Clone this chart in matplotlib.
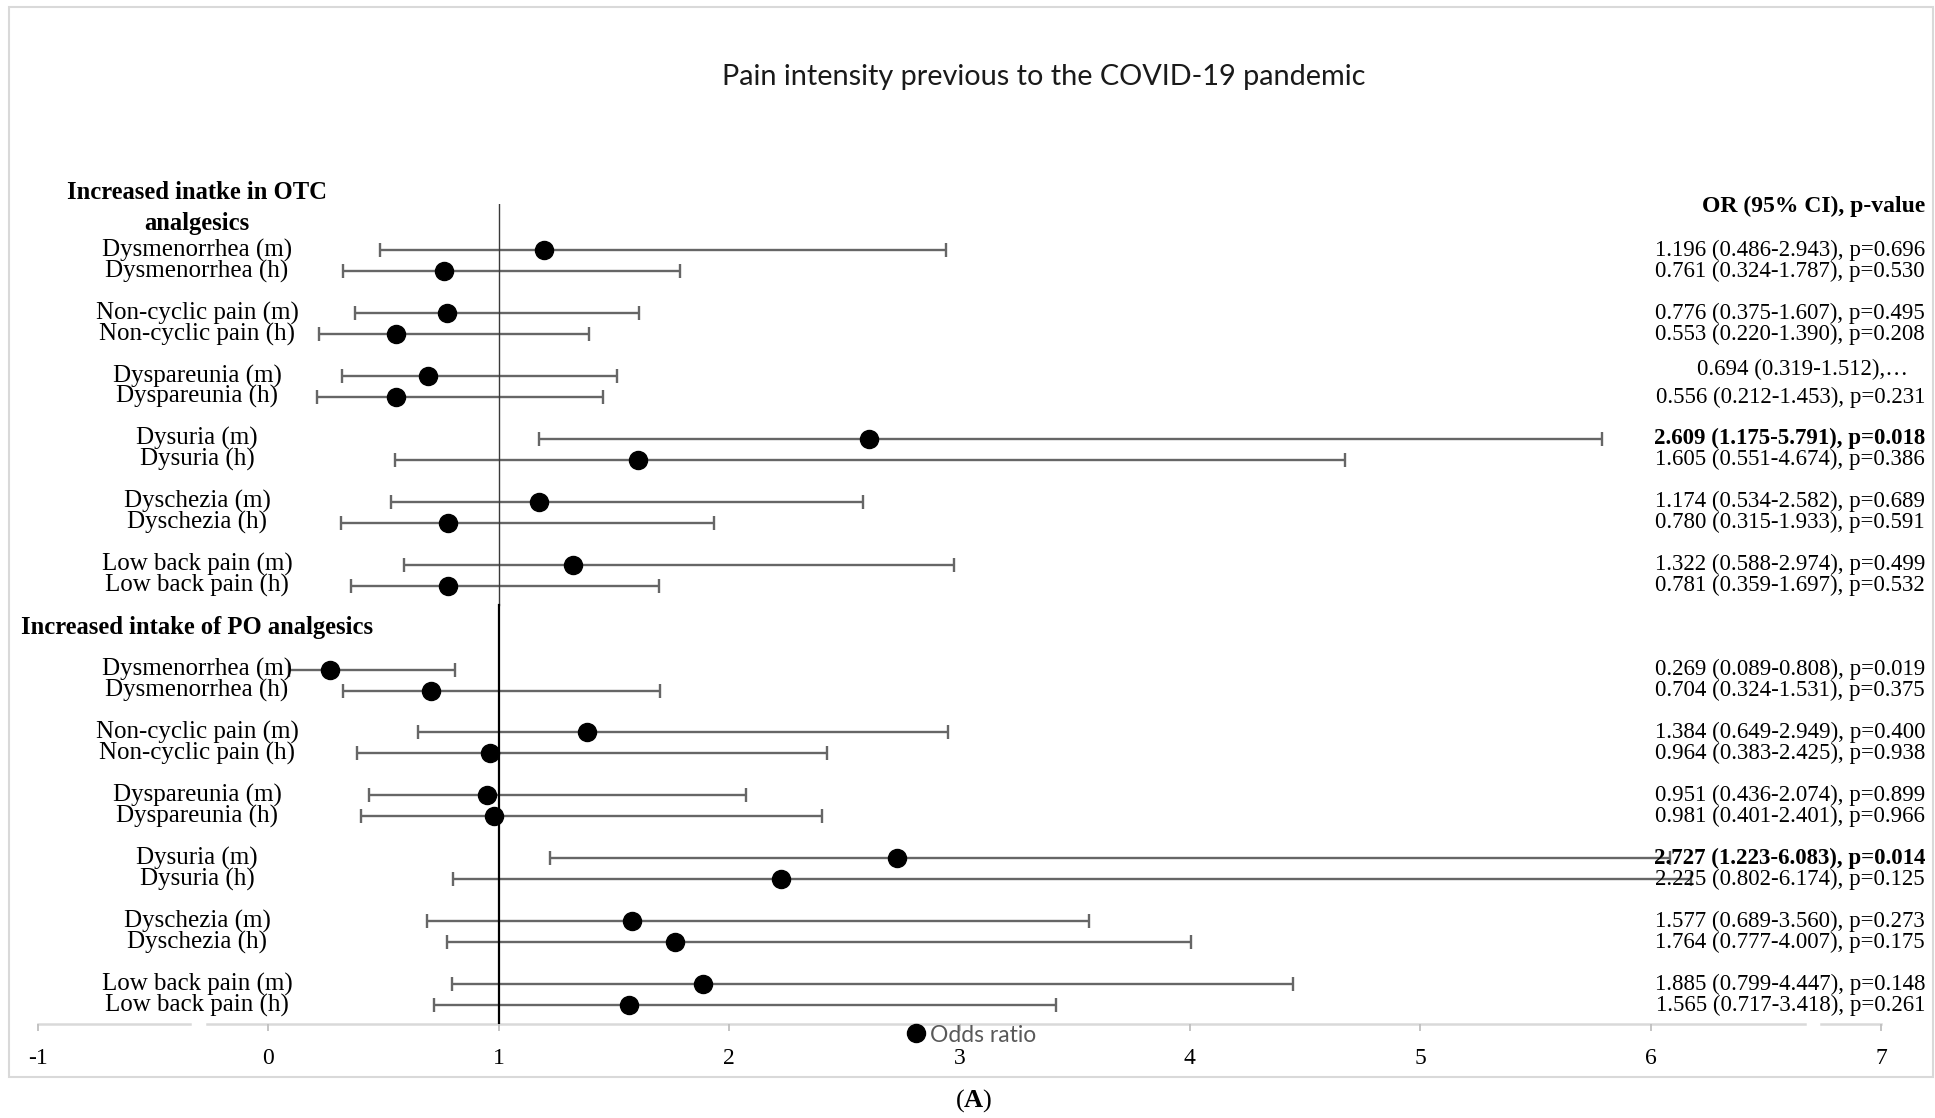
import matplotlib
matplotlib.use("Agg")
import matplotlib.pyplot as plt
import matplotlib.transforms as mtransforms
from matplotlib.lines import Line2D
from matplotlib.patches import Rectangle
import numpy as np

plt.rcParams['mathtext.fontset'] = 'custom'
plt.rcParams['mathtext.rm'] = 'Liberation Serif'
plt.rcParams['mathtext.bf'] = 'Liberation Serif:bold'

# ---- data ----
conditions = ['Dysmenorrhea (m)', 'Dysmenorrhea (h)',
              'Non-cyclic pain (m)', 'Non-cyclic pain (h)',
              'Dyspareunia (m)', 'Dyspareunia (h)',
              'Dysuria (m)', 'Dysuria (h)',
              'Dyschezia (m)', 'Dyschezia (h)',
              'Low back pain (m)', 'Low back pain (h)']

otc_or = [1.196, 0.761, 0.776, 0.553, 0.694, 0.556, 2.609, 1.605, 1.174, 0.780, 1.322, 0.781]
otc_lo = [0.486, 0.324, 0.375, 0.220, 0.319, 0.212, 1.175, 0.551, 0.534, 0.315, 0.588, 0.359]
otc_hi = [2.943, 1.787, 1.607, 1.390, 1.512, 1.453, 5.791, 4.674, 2.582, 1.933, 2.974, 1.697]

po_or = [0.269, 0.704, 1.384, 0.964, 0.951, 0.981, 2.727, 2.225, 1.577, 1.764, 1.885, 1.565]
po_lo = [0.089, 0.324, 0.649, 0.383, 0.436, 0.401, 1.223, 0.802, 0.689, 0.777, 0.799, 0.717]
po_hi = [0.808, 1.70, 2.949, 2.425, 2.074, 2.401, 6.083, 6.174, 3.560, 4.007, 4.447, 3.418]

otc_text = ['1.196 (0.486-2.943), p=0.696', '0.761 (0.324-1.787), p=0.530',
            '0.776 (0.375-1.607), p=0.495', '0.553 (0.220-1.390), p=0.208',
            '0.694 (0.319-1.512),\u2026', '0.556 (0.212-1.453), p=0.231',
            '2.609 (1.175-5.791), p=0.018', '1.605 (0.551-4.674), p=0.386',
            '1.174 (0.534-2.582), p=0.689', '0.780 (0.315-1.933), p=0.591',
            '1.322 (0.588-2.974), p=0.499', '0.781 (0.359-1.697), p=0.532']
po_text = ['0.269 (0.089-0.808), p=0.019', '0.704 (0.324-1.531), p=0.375',
           '1.384 (0.649-2.949), p=0.400', '0.964 (0.383-2.425), p=0.938',
           '0.951 (0.436-2.074), p=0.899', '0.981 (0.401-2.401), p=0.966',
           '2.727 (1.223-6.083), p=0.014', '2.225 (0.802-6.174), p=0.125',
           '1.577 (0.689-3.560), p=0.273', '1.764 (0.777-4.007), p=0.175',
           '1.885 (0.799-4.447), p=0.148', '1.565 (0.717-3.418), p=0.261']
otc_bold = [False] * 6 + [True] + [False] * 5
po_bold = [False] * 6 + [True] + [False] * 5

xticks = [-1, 0, 1, 2, 3, 4, 5, 6, 7]

# row positions: pairs with a blank row between, PO block starts lower
pair_rows = np.array([3 * (i // 2) + (i % 2) for i in range(len(conditions))])
otc_y = pair_rows
po_y = pair_rows + 20

W, H = 1935, 1118
fig = plt.figure(figsize=(W / 100, H / 100), dpi=100)
ax = fig.add_axes([38 / W, 1 - 1024 / H, (1881 - 38) / W, (1024 - 204) / H])
ax.set_xlim(-1, 7)
ax.set_ylim(37, -2.1)

serif = 'Liberation Serif'
sans = 'Lato'

# reference line at OR = 1
ax.plot([1, 1], [-2.1, 17], color='#3a3a3a', lw=1.0, zorder=3)
ax.plot([1, 1], [17, 37], color='black', lw=1.6, zorder=3)

for ors, lo, hi, ys in [(otc_or, otc_lo, otc_hi, otc_y), (po_or, po_lo, po_hi, po_y)]:
    ors, lo, hi = np.array(ors), np.array(lo), np.array(hi)
    ax.errorbar(ors, ys + 0.1, xerr=[ors - lo, hi - ors], fmt='none', ecolor='#666666',
                elinewidth=1.7, capsize=5, capthick=1.7, zorder=2)
    ax.plot(ors, ys + 0.1, 'o', color='black', markersize=13, zorder=4)

# x axis drawn by hand (Excel-style light line with small breaks)
for a, b in [(-1, -0.34), (-0.265, 6.67), (6.74, 7)]:
    ax.plot([a, b], [37, 37], color='#d9d9d9', lw=1.8, clip_on=False, zorder=1)
for s in ax.spines.values():
    s.set_visible(False)
ax.set_yticks([])
ax.set_xticks(xticks)
ax.set_xticklabels([str(t) for t in xticks], fontfamily=serif, fontsize=17)
ax.tick_params(axis='x', length=5, width=1.3, color='#bfbfbf', pad=12)

# row labels on the left, values on the right
tl = mtransforms.blended_transform_factory(fig.transFigure, ax.transData)
lab_x = 197 / W
val_x = 1925 / W
for ys, texts, bolds in [(otc_y, otc_text, otc_bold), (po_y, po_text, po_bold)]:
    for name, y in zip(conditions, ys):
        ax.text(lab_x, y + 0.1, name, transform=tl, ha='center', va='center',
                fontfamily=serif, fontsize=18)
    for t, y, b in zip(texts, ys, bolds):
        if t.endswith('\u2026'):
            # truncated label sits a bit higher and is centred in its box
            ax.text(1802 / W, y - 0.2, t, transform=tl, ha='center', va='center',
                    fontfamily=serif, fontsize=16.5, zorder=5)
            continue
        ax.text(val_x, y + 0.1, t, transform=tl, ha='right', va='center',
                fontfamily=serif, fontsize=16.5,
                fontweight='bold' if b else 'normal', zorder=5)

ax.text(lab_x, -1.9, 'Increased inatke in OTC\nanalgesics', transform=tl, ha='center',
        va='center', fontfamily=serif, fontsize=17.7, fontweight='bold', linespacing=1.45)
ax.text(lab_x, 18.1, 'Increased intake of PO analgesics', transform=tl, ha='center',
        va='center', fontfamily=serif, fontsize=17.7, fontweight='bold')
ax.text(val_x, -2.0, 'OR (95% CI), p-value', transform=tl, ha='right', va='center',
        fontfamily=serif, fontsize=17, fontweight='bold')

# title, legend, border, caption
fig.text(1044 / W, 1 - 77 / H, 'Pain intensity previous to the COVID-19 pandemic',
         ha='center', va='center', fontfamily=sans, fontsize=20.8, color='#1a1a1a')

handle = Line2D([], [], marker='o', color='black', linestyle='none', markersize=13)
ax.legend([handle], ['Odds ratio'], loc='center', bbox_to_anchor=(972 / W, 1 - 1035 / H),
          bbox_transform=fig.transFigure, frameon=False, handlelength=0.7,
          handletextpad=0.25, borderpad=0, prop={'family': sans, 'size': 16.5},
          labelcolor='#595959')

fig.patches.append(Rectangle((9 / W, 1 - 1077 / H), (1933 - 9) / W, (1077 - 7) / H,
                             transform=fig.transFigure, fill=False,
                             edgecolor='#d9d9d9', lw=1.5))

fig.text(974 / W, 1 - 1101 / H, r'($\mathbf{A}$)', ha='center', va='center',
         fontfamily=serif, fontsize=19)

fig.savefig('out.png', dpi=100)
